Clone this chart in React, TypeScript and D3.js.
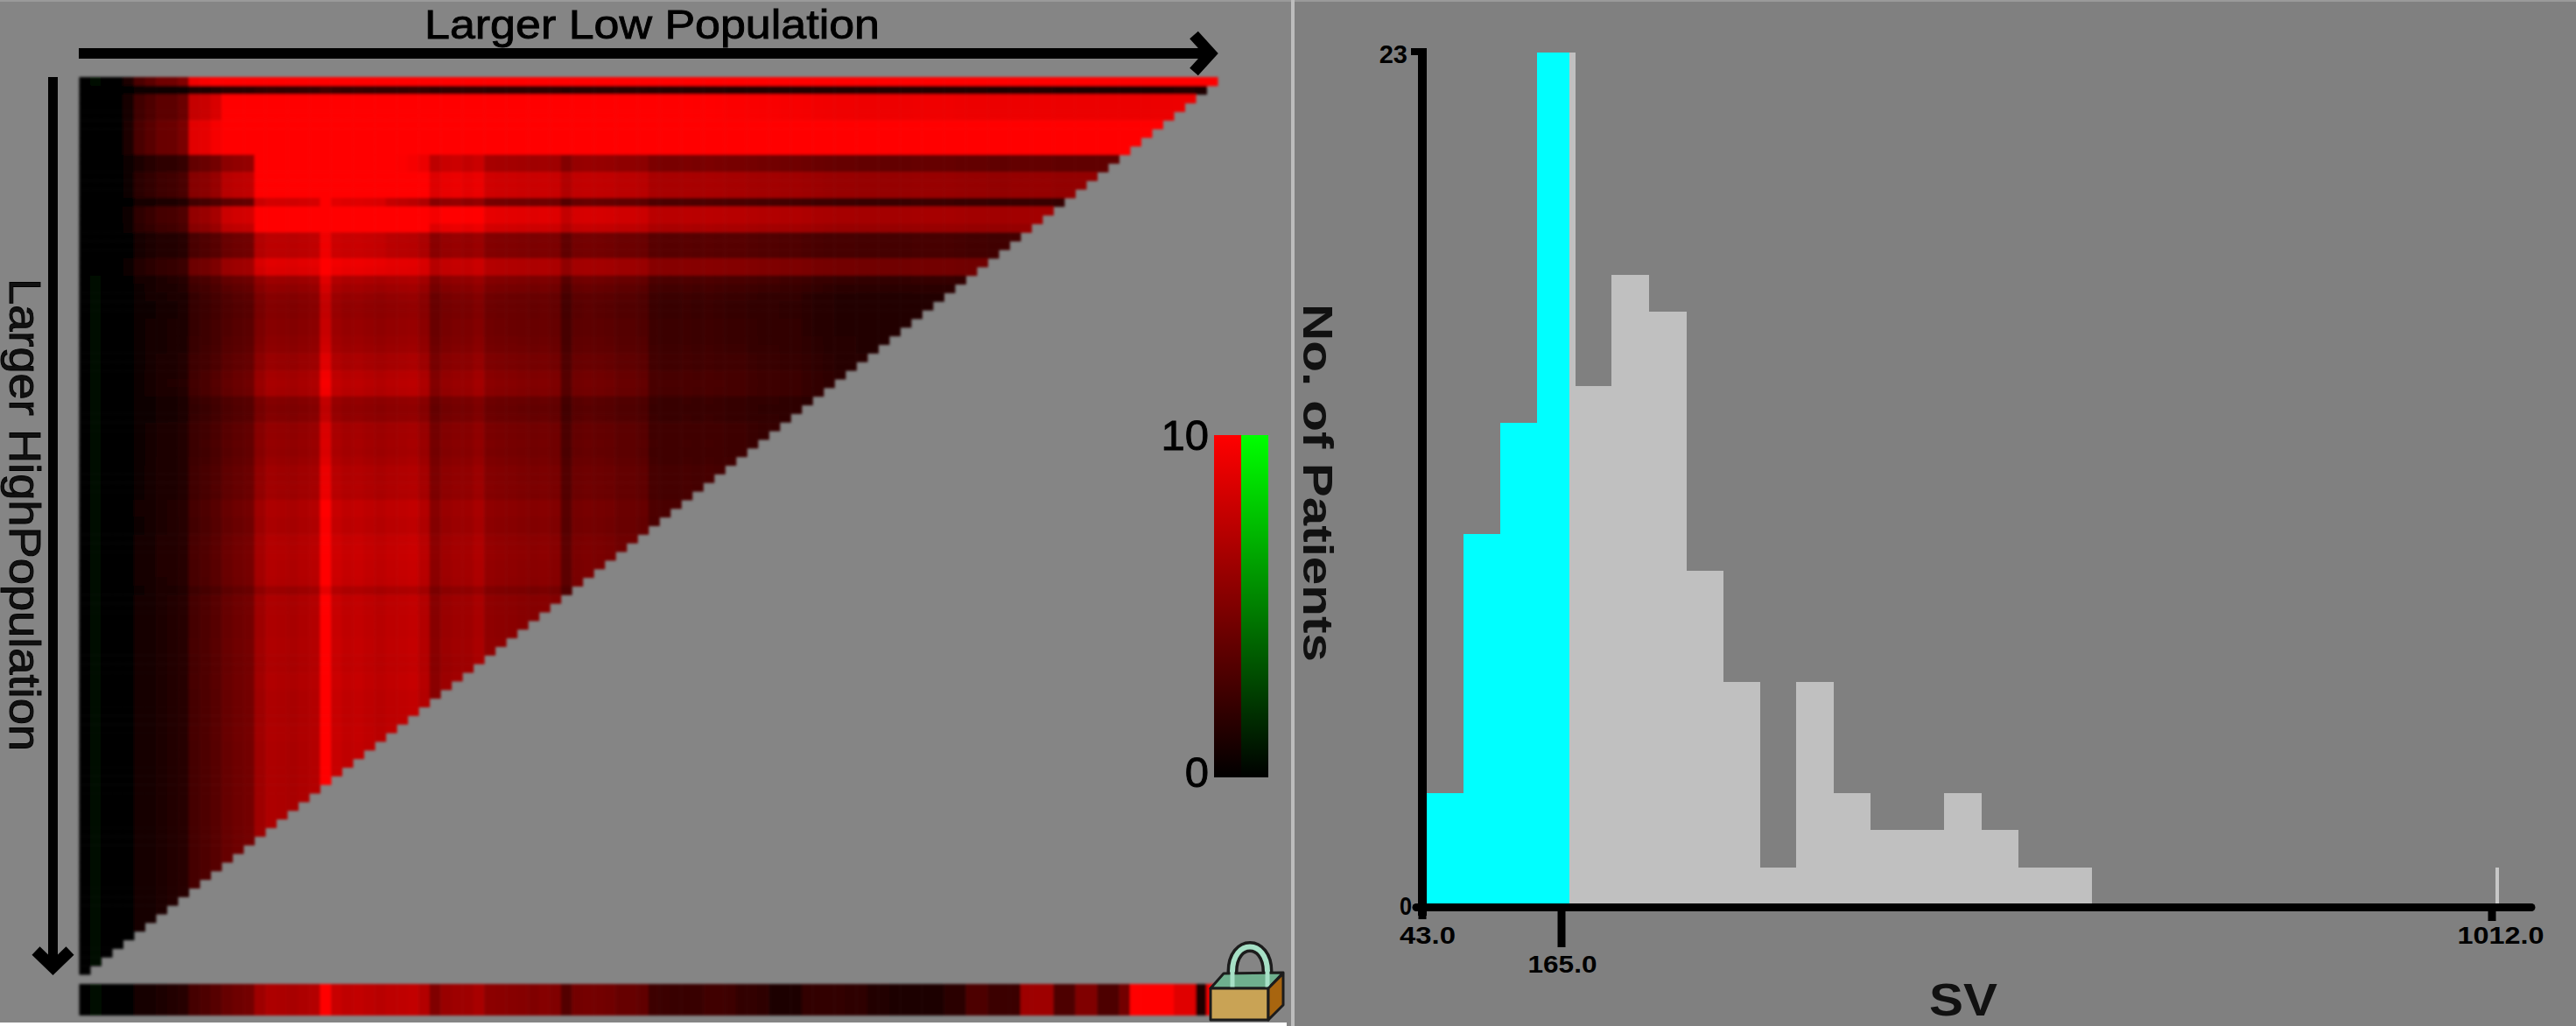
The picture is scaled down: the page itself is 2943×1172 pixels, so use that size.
import React from "react";
import * as d3 from "d3";

// ---------- X-tile heat map readings (0-10 scale; negative = green) ----------
const columnValues = [
  0.2, -0.35, -0.2, 0, 0.1, 0.7, 0.9, 1.2, 1.3, 1.5, 2.7, 3.0, 3.4, 4.0, 4.3, 4.5,
  6.2, 6.8, 6.7, 6.6, 6.8, 7.0, 10, 7.8, 7.5, 7.6, 7.4, 7.2, 7.4, 7.5, 7.6, 7.0,
  5.3, 6.0, 6.2, 6.2, 6.6, 5.6, 5.5, 5.4, 5.3, 5.2, 5.3, 5.1, 3.5, 4.6, 4.7, 4.6,
  4.5, 4.2, 4.2, 4.0, 3.0, 2.9, 2.9, 3.0, 2.9, 3.0, 2.9, 2.8, 2.8, 2.6, 2.5, 2.5,
  2.4, 2.4, 2.2, 2.0, 1.9, 1.8, 1.8, 1.7, 1.7, 1.7, 1.7, 1.7, 1.8, 1.8, 1.8, 1.8,
  1.7, 1.6, 1.6, 1.5, 1.5, 1.6, 1.6, 1.6, 1.6, 1.5, 1.5, 1.5, 1.5, 1.5, 1.5, 1.5,
  1.5, 1.4, 1.5, 1.5, 1.6, 1.6, 1.5, 1.5,
];
const stripValues = [
  0.2, -0.4, -0.25, 0, 0.1, 0.7, 0.9, 1.2, 1.3, 1.5, 2.7, 3.0, 3.4, 4.0, 4.3, 4.5,
  6.2, 6.8, 6.7, 6.6, 6.8, 7.0, 10, 7.8, 7.5, 7.6, 7.4, 7.2, 7.4, 7.5, 7.6, 7.0,
  5.0, 6.0, 6.2, 6.2, 6.6, 5.5, 5.4, 5.3, 5.2, 5.0, 5.2, 5.0, 3.2, 4.5, 4.6, 4.5,
  4.4, 4.0, 4.0, 3.8, 2.4, 2.3, 2.2, 2.2, 2.2, 2.5, 2.5, 2.4, 1.9, 1.9, 1.8, 1.2,
  1.1, 1.2, 2.0, 2.0, 2.0, 1.9, 1.8, 1.8, 1.3, 1.3, 1.2, 1.2, 1.0, 1.0, 1.0, 1.6,
  1.6, 3.0, 3.0, 2.3, 2.3, 2.3, 6.2, 6.2, 6.2, 3.0, 3.0, 5.0, 5.0, 3.0, 3.0, 4.5,
  10, 10, 10, 10, 8.8, 8.8, 1.2, 10,
];
const columnWeights = [
  0, 0, 0, 0, 0.1, 0.25, 0.3, 0.35, 0.35, 0.4, 0.75, 0.75, 0.8, 1, 1, 1,
];
const rowMultipliers = [
  1, 0.15, 0.5, 0.5, 0.5, 0.5, 0.5, 0.5, 0.5, 0.67, 0.67, 0.58, 0.58, 0.58, 0.6, 0.67,
  0.67, 0.6, 0.63, 0.63, 0.63, 0.67, 0.67, 0.82, 0.8, 0.78, 0.76, 0.76, 0.78, 0.78, 0.8, 0.82,
  0.88, 0.88, 0.95, 0.97, 0.95, 0.76, 0.74, 0.76, 0.85, 0.85, 0.86, 0.85, 0.88, 0.92, 0.92, 0.93,
  0.92, 1, 1, 0.98, 0.98, 1.03, 1.04, 1.04, 1.03, 1.03, 1.02, 0.9, 1, 1, 1, 1,
  1, 1.01, 1.01, 1, 1, 1.02, 1.02, 1, 1, 1, 1, 1.01, 1.01, 1, 1, 1,
  1, 1, 1, 1, 1, 1, 1, 1, 1, 1, 1, 1, 1, 1, 1, 1,
  1, 1, 1, 1, 1, 1, 1, 1,
];
const rowOffsets = [
  9, 1, 8.5, 8.5, 8.5, 10, 10, 10, 10, 2.8, 2.8, 4.9, 4.9, 4.9, 1.2, 5.3,
  5.3, 4.9, 1.6, 1.6, 1.6, 3.3, 3.3, 0.6, 0.3,
];
// extra brightness of the bright patch near the top left (rows 9.., columns 16..)
const patchRows = [3.5, 3.5, 2.5, 2.5, 2.5, 3, 2.5, 2.5, 2, 1.5, 1.5, 1.5, 1, 0.8];
const patchColumns = [
  1, 1, 1, 1, 1, 1, 1, 1, 1, 1, 1, 1, 0.7, 0.6, 0.5, 0.5, 0.3, 0.3, 0.3, 0.2, 0.2,
];

// ---------- colour legend ----------
const legendTicks = [0, 10];

// ---------- histogram ----------
const binEdges = [
  47, 79, 111, 143.5, 177, 210.6, 244.2, 277.8, 311.4, 345, 378.6, 412.2, 445.8, 479.4,
  513, 546.6, 580.2, 613.8, 647.4,
];
const binCounts = [3, 10, 13, 23, 14, 17, 16, 9, 6, 1, 6, 3, 2, 2, 3, 2, 1, 1];
const outlierBin = { lo: 1015.5, hi: 1018, count: 1 };
const cutoffValue = 172;
const xTicks = [43, 165, 1012];

const N = columnValues.length;
const font = "'Liberation Sans', Arial, sans-serif";

function cellColor(v: number) {
  const t = Math.max(-1, Math.min(1, v / 10));
  return t >= 0
    ? d3.rgb(Math.round(255 * t), 0, 0).formatHex()
    : d3.rgb(0, Math.round(255 * -t), 0).formatHex();
}
function cellValue(r: number, c: number) {
  const w = c < columnWeights.length ? columnWeights[c] : 1;
  const pr = patchRows[r - 9] ?? 0;
  const pc = patchColumns[c - 16] ?? 0;
  return columnValues[c] * rowMultipliers[r] + (rowOffsets[r] ?? 0) * w + pr * pc;
}

export default function App() {
  React.useEffect(() => {
    document.body.style.margin = "0";
    document.body.style.overflow = "hidden";
  }, []);
  const idx = d3.range(N);
  const xCell = d3.scaleBand<number>().domain(idx).range([90.5, 1391]);
  const yCell = d3.scaleBand<number>().domain(idx).range([88, 1113]);
  const legendY = d3.scaleLinear().domain([0, 10]).range([888, 497]);

  const xHist = d3.scaleLinear().domain([43, 165, 1012]).range([1625, 1784, 2847]);
  const yHist = d3.scaleLinear().domain([0, 23]).range([1033, 60]);
  const bw = xCell.bandwidth();
  const bh = yCell.bandwidth();
  const baseline = yHist(0);
  const stops = d3.range(0, 1.01, 0.1);
  const heavy = { stroke: "#000", strokeWidth: 0.9 };

  return (
    <svg width={2943} height={1172} style={{ position: "absolute", left: 0, top: 0, display: "block" }} fontFamily={font}>
      <defs>
        <filter id="soft" x="-2%" y="-2%" width="104%" height="104%">
          <feGaussianBlur stdDeviation="1.5" />
        </filter>
        <linearGradient id="gradRed" x1="0" y1="1" x2="0" y2="0">
          {stops.map((s) => <stop key={s} offset={s} stopColor={cellColor(s * 10)} />)}
        </linearGradient>
        <linearGradient id="gradGreen" x1="0" y1="1" x2="0" y2="0">
          {stops.map((s) => <stop key={s} offset={s} stopColor={d3.rgb(0, Math.round(255 * s), 0).formatHex()} />)}
        </linearGradient>
      </defs>

      {/* backgrounds */}
      <rect x={0} y={0} width={1478} height={1172} fill="#858585" />
      <rect x={1478} y={0} width={1465} height={1172} fill="#808080" />
      <rect x={0} y={0} width={2943} height={2} fill="#9a9a9a" />
      <rect x={0} y={1168} width={1470} height={4} fill="#ffffff" />
      <rect x={1475} y={0} width={4} height={1172} fill="#bdbdbd" />

      {/* heat map */}
      <g filter="url(#soft)">
        {idx.map((r) =>
          idx.filter((c) => c < N - r).map((c) => (
            <rect key={`${r}-${c}`} x={xCell(c)} y={yCell(r)} width={bw + 0.5} height={bh + 0.5}
              fill={cellColor(cellValue(r, c))} />
          ))
        )}
        {idx.map((c) => (
          <rect key={`s${c}`} x={xCell(c)} y={1124} width={bw + 0.5} height={36} fill={cellColor(stripValues[c])} />
        ))}
      </g>

      {/* axis arrows and titles */}
      <line x1={90} y1={61} x2={1375} y2={61} stroke="#000" strokeWidth={12} />
      <path d="M1364,40 L1383,61 L1364,82" fill="none" stroke="#000" strokeWidth={13} />
      <line x1={60.5} y1={88} x2={60.5} y2={1100} stroke="#000" strokeWidth={11} />
      <path d="M41,1086 L60.5,1105 L80,1086" fill="none" stroke="#000" strokeWidth={13} />
      <text x={485} y={44} fontSize={47} textLength={520} lengthAdjust="spacingAndGlyphs" fill="#000" {...heavy}>Larger Low Population</text>
      <text transform="translate(11,318) rotate(90)" fontSize={50} textLength={540} lengthAdjust="spacingAndGlyphs" fill="#111" {...heavy}>Larger HighPopulation</text>

      {/* colour legend */}
      <rect x={1387} y={legendY(10)} width={31} height={legendY(0) - legendY(10)} fill="url(#gradRed)" />
      <rect x={1418} y={legendY(10)} width={31} height={legendY(0) - legendY(10)} fill="url(#gradGreen)" />
      {legendTicks.map((t) => (
        <text key={t} x={1381} y={t === 10 ? legendY(t) + 17 : legendY(t) + 11} fontSize={49} textAnchor="end" fill="#000" {...heavy}>{t}</text>
      ))}

      {/* padlock */}
      <g stroke="#1c1c1c" strokeWidth={3} strokeLinejoin="round">
        <path d="M1408,1135 L1408,1110 C1408,1072 1448,1072 1448,1110 L1448,1135" fill="none" stroke="#1c1c1c" strokeWidth={13} />
        <path d="M1408,1135 L1408,1110 C1408,1072 1448,1072 1448,1110 L1448,1135" fill="none" stroke="#a6e0c6" strokeWidth={6} />
        <path d="M1383,1129 L1398,1112 L1466,1111 L1449,1129 Z" fill="#6fb08e" />
        <path d="M1408,1128 L1408,1108 M1448,1128 L1448,1108" stroke="#a6e0c6" strokeWidth={5} />
        <rect x={1383} y={1129} width={66} height={36} fill="#c9a355" />
        <path d="M1449,1129 L1466,1112 L1466,1148 L1449,1165 Z" fill="#a8650f" />
      </g>

      {/* histogram */}
      <g shapeRendering="crispEdges">
        {binCounts.map((n, i) => (
          <rect key={i} x={xHist(binEdges[i])} y={yHist(n)} width={xHist(binEdges[i + 1]) - xHist(binEdges[i]) + 1} height={baseline - yHist(n)} fill="#c0c0c0" />
        ))}
        {binCounts.map((n, i) => {
          const hi = Math.min(binEdges[i + 1], cutoffValue);
          if (hi <= binEdges[i]) return null;
          return <rect key={i} x={xHist(binEdges[i])} y={yHist(n)} width={xHist(hi) - xHist(binEdges[i]) + (i < 3 ? 1 : 0)} height={baseline - yHist(n)} fill="#00ffff" />;
        })}
        <rect x={xHist(outlierBin.lo)} y={yHist(outlierBin.count)} width={xHist(outlierBin.hi) - xHist(outlierBin.lo)} height={baseline - yHist(outlierBin.count)} fill="#c8c8c8" />
      </g>

      {/* histogram axes */}
      <line x1={1625} y1={yHist(23) - 2} x2={1625} y2={1046} stroke="#000" strokeWidth={10} />
      <line x1={1612} y1={yHist(23) - 1} x2={1630} y2={yHist(23) - 1} stroke="#000" strokeWidth={8} />
      <line x1={1618} y1={baseline + 3.5} x2={2892} y2={baseline + 3.5} stroke="#000" strokeWidth={9} strokeLinecap="round" />
      <text x={1608} y={72} fontSize={29} fontWeight="bold" textAnchor="end" fill="#000">23</text>
      <text x={1613} y={1045} fontSize={29} fontWeight="bold" textAnchor="end" textLength={14} lengthAdjust="spacingAndGlyphs" fill="#000">0</text>
      {xTicks.map((t, i) => {
        const x = xHist(t);
        const tickEnd = [1050, 1082, 1052][i];
        const labelY = [1078, 1111, 1078][i];
        const labelX = [1631, 1785, 2857][i];
        const labelW = [64, 79, 99][i];
        return (
          <g key={t}>
            <line x1={x} y1={baseline + 3} x2={x} y2={tickEnd} stroke="#000" strokeWidth={9} />
            <text x={labelX} y={labelY} fontSize={28} fontWeight="bold" textAnchor="middle" textLength={labelW} lengthAdjust="spacingAndGlyphs" fill="#000">{t.toFixed(1)}</text>
          </g>
        );
      })}
      <text x={2243} y={1160} fontSize={52} fontWeight="bold" textAnchor="middle" textLength={78} lengthAdjust="spacingAndGlyphs" fill="#111">SV</text>
      <text transform="translate(1489,347) rotate(90)" fontSize={48} fontWeight="bold" textLength={409} lengthAdjust="spacingAndGlyphs" fill="#111">No. of Patients</text>
    </svg>
  );
}
